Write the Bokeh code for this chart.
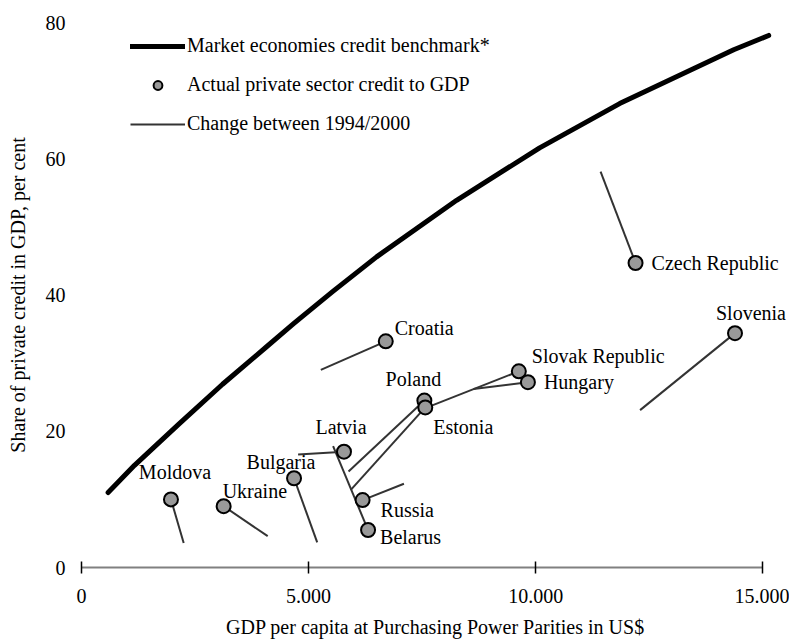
from bokeh.plotting import figure
from bokeh.models import (ColumnDataSource, LabelSet, Legend, LegendItem,
                          FixedTicker, Range1d)
from bokeh.embed import file_html
from bokeh.resources import INLINE

# ---- data ----
countries = ["Moldova", "Ukraine", "Bulgaria", "Latvia", "Belarus", "Russia",
             "Poland", "Estonia", "Slovak Republic", "Hungary", "Croatia",
             "Czech Republic", "Slovenia"]
gdp_1994 = [2250, 4100, 5190, 4770, 5540, 7100, 5880, 5930, 7570, 8630, 5270, 11430, 12300]
credit_1994 = [3.6, 4.6, 3.7, 16.6, 17.8, 12.3, 14.1, 11.4, 23.4, 26.2, 29.0, 58.1, 23.1]
gdp_2000 = [1970, 3130, 4680, 5780, 6310, 6190, 7550, 7570, 9630, 9830, 6700, 12200, 14390]
credit_2000 = [10.0, 9.0, 13.1, 17.0, 5.5, 9.9, 24.5, 23.5, 28.8, 27.2, 33.2, 44.7, 34.4]

bench_gdp = [586, 1167, 2137, 3106, 4075, 4670, 5529, 6498, 8260, 10088, 11850, 14361, 15132]
bench_credit = [11.0, 15.0, 21.0, 26.9, 32.4, 35.8, 40.5, 45.6, 53.9, 61.6, 68.1, 76.0, 78.1]

x_ticks = [0, 5000, 10000, 15000]
x_tick_labels = ["0", "5.000", "10.000", "15.000"]
y_ticks = [0, 20, 40, 60, 80]

# ---- label layout (screen px: dx right, dy down) ----
label_layout = {
    "Moldova": ("center", 4, -27),
    "Ukraine": ("left", -1, -15),
    "Bulgaria": ("center", -13, -16),
    "Latvia": ("center", -3, -25),
    "Belarus": ("left", 12, 7),
    "Russia": ("left", 18, 10),
    "Poland": ("center", -11, -22),
    "Estonia": ("left", 8, 20),
    "Slovak Republic": ("left", 13, -15),
    "Hungary": ("left", 16, 0),
    "Croatia": ("left", 9, -13),
    "Czech Republic": ("left", 16, 0),
    "Slovenia": ("center", 16, -20),
}

FONT = "Liberation Serif"

p = figure(width=789, height=640, output_backend="svg", toolbar_location=None,
           x_range=Range1d(0, 15590), y_range=Range1d(0, 80),
           min_border_left=81, min_border_right=0, min_border_top=22,
           min_border_bottom=72)
p.outline_line_color = None
p.xgrid.visible = False
p.ygrid.visible = False
p.background_fill_color = "white"

seg_src = ColumnDataSource(dict(x0=gdp_1994, y0=credit_1994, x1=gdp_2000, y1=credit_2000))
r_seg = p.segment("x0", "y0", "x1", "y1", source=seg_src, line_color="#333333", line_width=2)

r_bench = p.line(bench_gdp, bench_credit, line_color="black", line_width=5, line_cap="round",
                 line_join="round")

pts_src = ColumnDataSource(dict(x=gdp_2000, y=credit_2000, name=countries))
r_pts = p.scatter("x", "y", source=pts_src, size=14, fill_color="#999999",
                  line_color="black", line_width=2)

for align in ("left", "center"):
    idx = [i for i, c in enumerate(countries) if label_layout[c][0] == align]
    src = ColumnDataSource(dict(
        x=[gdp_2000[i] for i in idx],
        y=[credit_2000[i] for i in idx],
        name=[countries[i] for i in idx],
        dx=[label_layout[countries[i]][1] for i in idx],
        dy=[-label_layout[countries[i]][2] for i in idx],
    ))
    p.add_layout(LabelSet(x="x", y="y", text="name", source=src, x_offset="dx", y_offset="dy",
                          text_align=align, text_baseline="middle", text_font=FONT,
                          text_font_size="20px", text_color="black"))

# axes
xa = p.xaxis[0]
xa.ticker = FixedTicker(ticks=x_ticks)
xa.bounds = (x_ticks[0], x_ticks[-1])
xa.major_label_overrides = {t: l for t, l in zip(x_ticks, x_tick_labels)}
xa.axis_line_color = "#808080"
xa.axis_line_width = 2
xa.major_tick_line_color = "black"
xa.major_tick_line_width = 1.5
xa.major_tick_in = 6
xa.major_tick_out = 6
xa.minor_tick_line_color = None
xa.major_label_text_font = FONT
xa.major_label_text_font_size = "20px"
xa.major_label_text_color = "black"
xa.major_label_standoff = 15
xa.axis_label = "GDP per capita at Purchasing Power Parities in US$"
xa.axis_label_text_font = FONT
xa.axis_label_text_font_size = "20px"
xa.axis_label_text_font_style = "normal"
xa.axis_label_text_color = "black"
xa.axis_label_standoff = 10

ya = p.yaxis[0]
ya.ticker = FixedTicker(ticks=y_ticks)
ya.axis_line_color = None
ya.major_tick_line_color = None
ya.major_tick_in = 0
ya.major_tick_out = 0
ya.minor_tick_line_color = None
ya.major_label_text_font = FONT
ya.major_label_text_font_size = "20px"
ya.major_label_text_color = "black"
ya.major_label_standoff = 16
ya.axis_label = "Share of private credit in GDP, per cent"
ya.axis_label_text_font = FONT
ya.axis_label_text_font_size = "20px"
ya.axis_label_text_font_style = "normal"
ya.axis_label_text_color = "black"
ya.axis_label_standoff = 14

legend = Legend(items=[
    LegendItem(label="Market economies credit benchmark*", renderers=[r_bench]),
    LegendItem(label="Actual private sector credit to GDP", renderers=[r_pts]),
    LegendItem(label="Change between 1994/2000", renderers=[r_seg]),
], location=(49, 432))
legend.border_line_color = None
legend.background_fill_alpha = 0
legend.padding = 0
legend.margin = 0
legend.glyph_width = 55
legend.glyph_height = 22
legend.label_height = 22
legend.spacing = 16
legend.label_standoff = 2
legend.label_text_font = FONT
legend.label_text_font_size = "20px"
legend.label_text_color = "black"
p.add_layout(legend, "center")

open("out.html", "w").write(file_html(p, INLINE))
